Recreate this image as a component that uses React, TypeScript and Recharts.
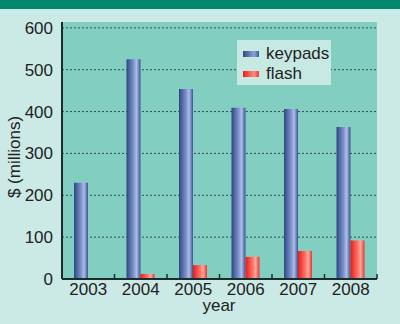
import { BarChart, Bar, XAxis, YAxis, CartesianGrid, Legend } from "recharts";

const years = ["2003", "2004", "2005", "2006", "2007", "2008"];
const keypads = [230, 525, 454, 409, 406, 363];
const flash = [0, 12, 33, 53, 67, 92];
const yTicks = [0, 100, 200, 300, 400, 500, 600];
const seriesOrder = ["keypads", "flash"];

const data = years.map((year, i) => ({
  year,
  keypads: keypads[i],
  flash: flash[i],
}));

const FONT = "'Liberation Sans', Arial, Helvetica, sans-serif";
const PLOT_TOP = 22;
const PLOT_LEFT = 62;
const PLOT_RIGHT = 377;
const BAND = (PLOT_RIGHT - PLOT_LEFT) / years.length;

const XTick = (props: any) => {
  const { x, y, payload } = props;
  const axisY = y - 8;
  return (
    <g>
      <line
        x1={x + BAND / 2}
        x2={x + BAND / 2}
        y1={axisY}
        y2={axisY - 5}
        stroke="#1c2b2b"
        strokeWidth={1.5}
      />
      <text
        x={x}
        y={axisY + 4}
        dy="0.71em"
        textAnchor="middle"
        fontSize={17}
        fill="#222"
        fontFamily={FONT}
      >
        {payload.value}
      </text>
    </g>
  );
};

// skip the line recharts puts on the top edge of the plot
const GridLine = (props: any) => {
  const { x1, x2, y1, y2, stroke, strokeDasharray } = props;
  if (y1 < PLOT_TOP + 2) return <g />;
  return (
    <line
      x1={x1}
      x2={x2}
      y1={y1}
      y2={y2}
      stroke={stroke}
      strokeDasharray={strokeDasharray}
    />
  );
};

const LegendBox = (props: any) => {
  const items = [...(props.payload || [])].sort(
    (a: any, b: any) => seriesOrder.indexOf(a.value) - seriesOrder.indexOf(b.value)
  );
  return (
    <div
      style={{
        background: "#c6e9e3",
        width: 94,
        height: 45,
        boxSizing: "border-box",
        padding: "4px 0 0 6px",
        fontFamily: FONT,
        fontSize: 17,
        color: "#222",
        lineHeight: "20px",
      }}
    >
      {items.map((it: any) => (
        <div key={it.value} style={{ display: "flex", alignItems: "center" }}>
          <span
            style={{
              display: "inline-block",
              width: 16,
              height: 6,
              marginRight: 7,
              background:
                it.value === "keypads"
                  ? "linear-gradient(90deg,#2f4a86,#8ea2d6 70%,#3d5693)"
                  : "linear-gradient(90deg,#e8201c,#ff8a80 70%,#e83a30)",
            }}
          />
          {it.value}
        </div>
      ))}
    </div>
  );
};

export default function App() {
  return (
    <div
      style={{
        position: "fixed",
        left: 0,
        top: 0,
        width: 400,
        height: 324,
        background: "#cbe9e5",
      }}
    >
      <div style={{ position: "absolute", left: 0, top: 0, width: 400, height: 9, background: "#00876d" }} />
      <BarChart
        width={400}
        height={324}
        data={data}
        margin={{ top: PLOT_TOP, right: 400 - PLOT_RIGHT, left: 0, bottom: 0 }}
        barSize={14}
        barGap={0}
        style={{ position: "absolute", left: 0, top: 0 }}
      >
        <defs>
          <linearGradient id="gKey" x1="0" y1="0" x2="1" y2="0">
            <stop offset="0%" stopColor="#2d4682" />
            <stop offset="50%" stopColor="#7d92cb" />
            <stop offset="72%" stopColor="#aebde9" />
            <stop offset="100%" stopColor="#3a5390" />
          </linearGradient>
          <linearGradient id="gFlash" x1="0" y1="0" x2="1" y2="0">
            <stop offset="0%" stopColor="#e41e1a" />
            <stop offset="50%" stopColor="#ff6f66" />
            <stop offset="72%" stopColor="#ffa89e" />
            <stop offset="100%" stopColor="#e8362c" />
          </linearGradient>
        </defs>
        <CartesianGrid
          vertical={false}
          horizontal={<GridLine />}
          fill="#82cfc2"
          fillOpacity={1}
          stroke="#2f4e4a"
          strokeDasharray="2 2"
        />
        <XAxis
          dataKey="year"
          height={45}
          tickLine={false}
          axisLine={{ stroke: "#1c2b2b", strokeWidth: 2 }}
          tick={<XTick />}
          interval={0}
          label={{
            content: () => (
              <text x={219} y={311} textAnchor="middle" fontSize={17} fill="#222" fontFamily={FONT}>
                year
              </text>
            ),
          }}
        />
        <YAxis
          width={PLOT_LEFT}
          domain={[0, 614]}
          ticks={yTicks}
          interval={0}
          tickLine={false}
          axisLine={{ stroke: "#1c2b2b", strokeWidth: 2 }}
          tick={{ fontSize: 17, fill: "#222", fontFamily: FONT }}
          tickMargin={3}
          label={{
            content: () => (
              <text
                x={0}
                y={0}
                transform="translate(20 157) rotate(-90)"
                textAnchor="middle"
                fontSize={17}
                fill="#222"
                fontFamily={FONT}
              >
                $ (millions)
              </text>
            ),
          }}
        />
        <Legend
          layout="vertical"
          verticalAlign="middle"
          align="center"
          content={<LegendBox />}
          wrapperStyle={{ left: 237, top: 40, width: 94 }}
        />
        <Bar dataKey="keypads" fill="url(#gKey)" isAnimationActive={false} />
        <Bar dataKey="flash" fill="url(#gFlash)" isAnimationActive={false} />
      </BarChart>
    </div>
  );
}
